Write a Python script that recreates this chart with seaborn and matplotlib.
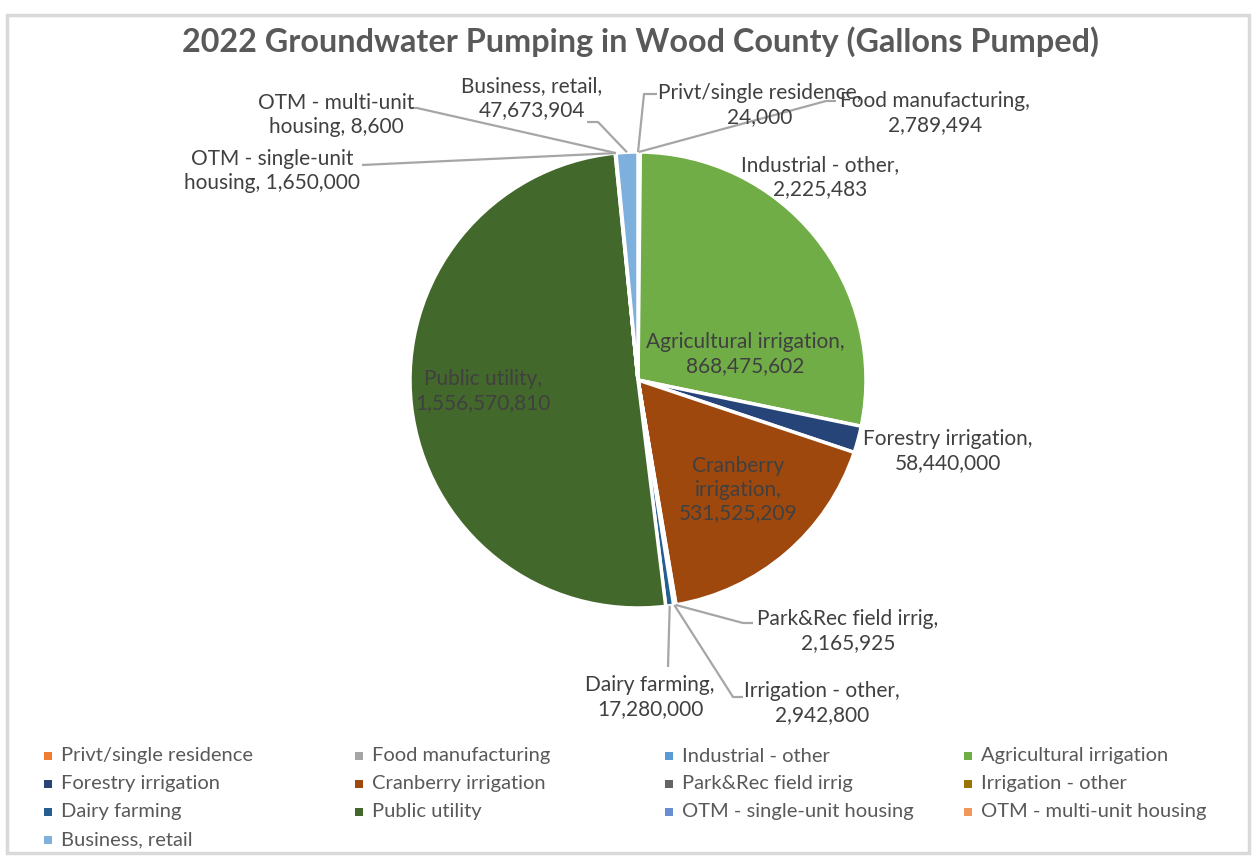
import numpy as np
import matplotlib
matplotlib.use("Agg")
import matplotlib.pyplot as plt
import seaborn as sns
from matplotlib.patches import Rectangle

# ---------------- data ----------------
categories = [
    "Privt/single residence", "Food manufacturing", "Industrial - other",
    "Agricultural irrigation", "Forestry irrigation", "Cranberry irrigation",
    "Park&Rec field irrig", "Irrigation - other", "Dairy farming",
    "Public utility", "OTM - single-unit housing", "OTM - multi-unit housing",
    "Business, retail",
]
gallons = [
    24000, 2789494, 2225483, 868475602, 58440000, 531525209,
    2165925, 2942800, 17280000, 1556570810, 1650000, 8600, 47673904,
]
colors = [
    "#ED7D31", "#A5A5A5", "#5B9BD5", "#70AD47", "#264478", "#9E480E",
    "#636363", "#997300", "#255E91", "#43682B", "#698ED0", "#F1975A",
    "#7EB0DE",
]
# how each data label is broken into lines
label_texts = [
    "Privt/single residence,\n{v}", "Food manufacturing,\n{v}", "Industrial - other,\n{v}",
    "Agricultural irrigation,\n{v}", "Forestry irrigation,\n{v}", "Cranberry\nirrigation,\n{v}",
    "Park&Rec field irrig,\n{v}", "Irrigation - other,\n{v}", "Dairy farming,\n{v}",
    "Public utility,\n{v}", "OTM - single-unit\nhousing, {v}", "OTM - multi-unit\nhousing, {v}",
    "Business, retail,\n{v}",
]
title = "2022 Groundwater Pumping in Wood County (Gallons Pumped)"

# ---------------- layout (pixel coords) ----------------
W, H = 1253, 861
CX, CY, R = 638, 380, 228
label_pos = [
    (760, 105), (935, 113), (820, 177), (745, 354), (948, 451), (738, 490),
    (848, 631), (822, 703), (650, 697), (483, 391), (272, 171), (336, 115),
    (532, 98),
]
# leader elbows: list of points after the wedge edge (None = no leader)
leaders = [
    [(644, 94), (657, 94)],
    [(826, 101), (836, 101)],
    None, None, None, None,
    [(743, 623), (753, 623)],
    [(733, 697), (743, 697)],
    [(668, 667)],
    None,
    [(362, 165)],
    [(417, 108), (410, 108)],
    [(598, 122), (587, 122)],
]

sns.set_theme(style="white")
plt.rcParams["font.family"] = ["Lato", "DejaVu Sans"]

fig = plt.figure(figsize=(W / 100, H / 100), dpi=100)
ax = fig.add_axes([0, 0, 1, 1])

# pie (y axis is inverted below, so counterclock=True appears clockwise)
wedges, _ = ax.pie(gallons, colors=colors, startangle=-90, counterclock=True,
                   center=(CX, CY), radius=R, frame=True,
                   wedgeprops=dict(edgecolor="white", linewidth=2.5))
ax.set_xlim(0, W)
ax.set_ylim(H, 0)
ax.set_aspect("equal")
ax.axis("off")

# chart border
ax.add_patch(Rectangle((7, 15), 1242, 838, fill=False, edgecolor="#D9D9D9", lw=2.5))

total = float(sum(gallons))
cum = np.cumsum([0] + gallons)
txtcol = "#404040"
for i, (cat, val) in enumerate(zip(categories, gallons)):
    mid = -90 + (cum[i] + val / 2) / total * 360
    th = np.deg2rad(mid)
    ex, ey = CX + R * np.cos(th), CY + R * np.sin(th)
    lx, ly = label_pos[i]
    ax.text(lx, ly, label_texts[i].format(v=f"{val:,}"), ha="center", va="center",
            fontsize=15, color=txtcol, linespacing=1.22)
    if leaders[i] is not None:
        pts = [(ex, ey)] + leaders[i]
        xs, ys = zip(*pts)
        ax.plot(xs, ys, color="#A6A6A6", lw=1.6, solid_capstyle="butt")

# title
ax.text(641, 42, title, ha="center", va="center", fontsize=23.3, fontweight="bold",
        color="#595959")

# legend (row-major, 4 columns)
col_x = [48, 359, 669, 968]
row_y = [756, 784, 812, 840]
for i, (cat, c) in enumerate(zip(categories, colors)):
    x = col_x[i % 4]
    y = row_y[i // 4]
    ax.add_patch(Rectangle((x - 4, y - 4), 8, 8, facecolor=c, edgecolor="none"))
    ax.text(x + 13, y, cat, ha="left", va="center", fontsize=14.5, color="#595959")

fig.savefig("out.png", dpi=100, facecolor="white")
